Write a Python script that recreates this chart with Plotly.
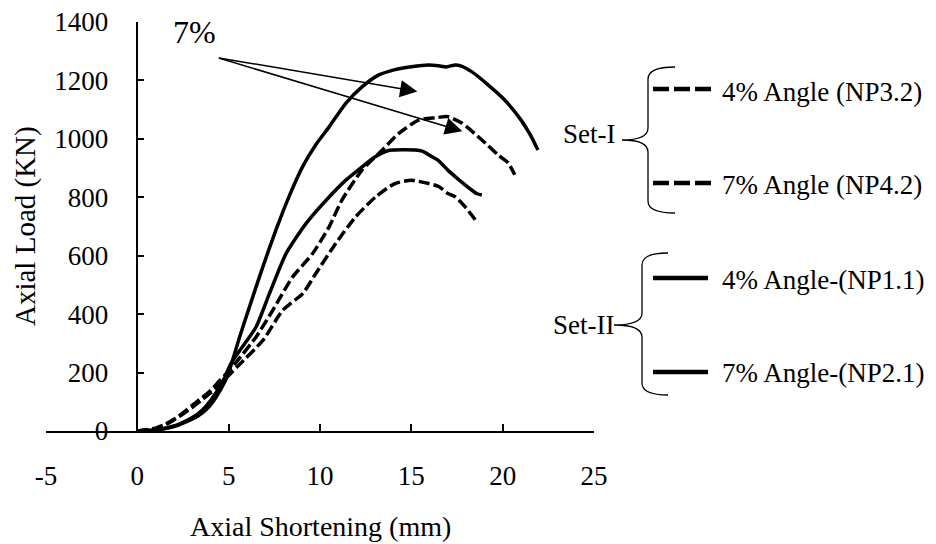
import plotly.graph_objects as go

# ---------------- data ----------------
np32_x = [0, 1, 1.5, 2, 2.5, 3, 3.5, 4, 4.5, 5.0, 5.5, 6.87, 7.96, 9.05, 9.77, 10.86, 11.95, 13.04, 14.1, 15.0, 15.95, 16.5, 17.0, 17.4, 17.95, 18.5]
np32_y = [0, 8, 20, 38, 58, 80, 105, 130, 160, 190, 222, 310, 413, 470, 539, 642, 733, 801, 847, 858, 847, 837, 813, 802, 767, 723]

np42_x = [0, 1, 1.5, 2, 2.5, 3, 3.5, 4, 4.5, 5.0, 5.41, 6.5, 7.41, 8.5, 9.59, 10.5, 11.2, 12.3, 13.4, 14.3, 15.4, 16.3, 17.0, 17.76, 18.85, 19.75, 20.3, 20.66]
np42_y = [0, 10, 22, 40, 62, 88, 112, 138, 172, 205, 235, 322, 413, 527, 607, 699, 790, 893, 961, 1018, 1064, 1072, 1076, 1054, 997, 945, 918, 877]

np11_x = [0, 1, 2, 2.7, 3.3, 3.8, 4.3, 4.8, 5.1, 5.6, 6.5, 7.23, 8.14, 9.23, 10.5, 11.4, 12.3, 13.0, 13.8, 14.7, 15.2, 15.6, 16.1, 16.5, 17.0, 17.4, 18.3, 18.6, 18.86]
np11_y = [0, 4, 17, 36, 58, 88, 130, 185, 228, 275, 356, 470, 607, 710, 801, 858, 904, 938, 961, 963, 962, 958, 940, 925, 893, 871, 825, 812, 808]

np21_x = [0, 1, 2, 2.7, 3.3, 3.8, 4.3, 4.8, 5.05, 5.6, 6.14, 6.87, 7.6, 8.32, 9.05, 9.77, 10.5, 11.4, 12.3, 13.2, 14.1, 15.0, 15.95, 16.5, 16.9, 17.4, 17.7, 18.3, 19.2, 20.1, 21.0, 21.5, 21.93]
np21_y = [0, 3, 15, 32, 50, 75, 115, 170, 210, 322, 425, 562, 690, 805, 905, 980, 1041, 1121, 1178, 1218, 1237, 1247, 1253, 1250, 1246, 1253, 1250, 1230, 1185, 1134, 1065, 1015, 962]

x_ticks = [-5, 0, 5, 10, 15, 20, 25]
y_ticks = [0, 200, 400, 600, 800, 1000, 1200, 1400]

series_names = ["4% Angle (NP3.2)", "7% Angle (NP4.2)", "4% Angle-(NP1.1)", "7% Angle-(NP2.1)"]
group_names = ["Set-I", "Set-II"]
note_text = "7%"
x_title = "Axial Shortening (mm)"
y_title = "Axial Load (KN)"

# ---------------- figure ----------------
FONT = "Liberation Serif, Times New Roman, serif"
# page body has an 8px margin: compensate so the plot sits where the reference has it
W, H = 928, 536
ML, MR, MT, MB = 38, 342, 14, 113
PW = W - ML - MR
PH = H - MT - MB
PLOT_LEFT_SCREEN = 46
PLOT_BOTTOM_SCREEN = 431


def px(x):
    return (x - PLOT_LEFT_SCREEN) / PW


def py(y):
    return (PLOT_BOTTOM_SCREEN - y) / PH


DASH_CURVE = "11px,4px"
DASH_LEG = "16px,5px"
LW = 3.5

fig = go.Figure()
for xs, ys, dash, name in [
    (np32_x, np32_y, DASH_CURVE, series_names[0]),
    (np42_x, np42_y, DASH_CURVE, series_names[1]),
    (np11_x, np11_y, "solid", series_names[2]),
    (np21_x, np21_y, "solid", series_names[3]),
]:
    fig.add_trace(go.Scatter(x=xs, y=ys, mode="lines", name=name,
                             line=dict(color="black", width=LW, dash=dash, shape="spline", smoothing=0.6),
                             showlegend=False))

shapes = []
annotations = []

# legend samples and labels
leg = [
    (89, 92, DASH_LEG, series_names[0], 712),
    (183, 185, DASH_LEG, series_names[1], 712),
    (278, 280, "solid", series_names[2], 708),
    (372, 373, "solid", series_names[3], 708),
]
for ly, ty, dash, name, xe in leg:
    shapes.append(dict(type="line", xref="paper", yref="paper",
                       x0=px(653), x1=px(xe), y0=py(ly), y1=py(ly),
                       line=dict(color="black", width=4.5, dash=dash)))
    annotations.append(dict(text=name, xref="paper", yref="paper", x=px(720), y=py(ty),
                            xanchor="left", yanchor="middle", showarrow=False,
                            font=dict(family=FONT, size=27, color="black")))


def brace(xv, xs, top, bot, mid, tip):
    r = 12
    pts = [
        f"M {px(xs)},{py(top)}",
        f"Q {px(xv)},{py(top)} {px(xv)},{py(top + r)}",
        f"L {px(xv)},{py(mid - r)}",
        f"Q {px(xv)},{py(mid)} {px(tip)},{py(mid)}",
        f"Q {px(xv)},{py(mid)} {px(xv)},{py(mid + r)}",
        f"L {px(xv)},{py(bot - r)}",
        f"Q {px(xv)},{py(bot)} {px(xs)},{py(bot)}",
    ]
    return dict(type="path", xref="paper", yref="paper", path=" ".join(pts),
                line=dict(color="black", width=1.3))


shapes.append(brace(648, 675, 67, 213, 140, 622))
shapes.append(brace(642, 668, 253, 395, 325, 614))
annotations.append(dict(text=group_names[0], xref="paper", yref="paper", x=px(617), y=py(134),
                        xanchor="right", yanchor="middle", showarrow=False,
                        font=dict(family=FONT, size=27, color="black")))
annotations.append(dict(text=group_names[1], xref="paper", yref="paper", x=px(616), y=py(325),
                        xanchor="right", yanchor="middle", showarrow=False,
                        font=dict(family=FONT, size=27, color="black")))

# 7% note with arrows
annotations.append(dict(text=note_text, x=3.13, y=1366, xref="x", yref="y", showarrow=False,
                        font=dict(family=FONT, size=32, color="black")))
for hx, hy in [(15.33, 1162), (17.79, 1026)]:
    annotations.append(dict(text="", x=hx, y=hy, xref="x", yref="y", ax=4.38, ay=1278,
                            axref="x", ayref="y", showarrow=True, arrowhead=2,
                            arrowsize=2.3, arrowwidth=1.5, arrowcolor="black", standoff=0))

# axis titles
annotations.append(dict(text=x_title, xref="paper", yref="paper", x=px(320), y=py(526),
                        xanchor="center", yanchor="middle", showarrow=False,
                        font=dict(family=FONT, size=28, color="black")))
annotations.append(dict(text=y_title, xref="paper", yref="paper", x=px(25), y=py(226),
                        xanchor="center", yanchor="middle", showarrow=False, textangle=-90,
                        font=dict(family=FONT, size=29, color="black")))

fig.update_layout(
    width=W, height=H,
    margin=dict(l=ML, r=MR, t=MT, b=MB, autoexpand=False),
    paper_bgcolor="white", plot_bgcolor="white",
    font=dict(family=FONT, size=27, color="black"),
    shapes=shapes, annotations=annotations,
    xaxis=dict(range=[-5, 25], tickvals=x_ticks, ticktext=[str(v) for v in x_ticks],
               showline=True, linecolor="black", linewidth=1.5,
               ticks="inside", ticklen=7, tickwidth=1.5, tickcolor="black",
               showgrid=False, zeroline=False, ticklabelstandoff=20,
               ticklabeloverflow="allow", automargin=False,
               tickfont=dict(family=FONT, size=27, color="black")),
    yaxis=dict(range=[0, 1400], tickvals=y_ticks, ticktext=[str(v) for v in y_ticks],
               anchor="free", position=5 / 30,
               showline=True, linecolor="black", linewidth=1.5,
               ticks="inside", ticklen=6, tickwidth=1.5, tickcolor="black",
               showgrid=False, zeroline=False, ticklabelstandoff=23,
               ticklabeloverflow="allow", automargin=False,
               tickfont=dict(family=FONT, size=27, color="black")),
)

fig.write_html("out.html")
